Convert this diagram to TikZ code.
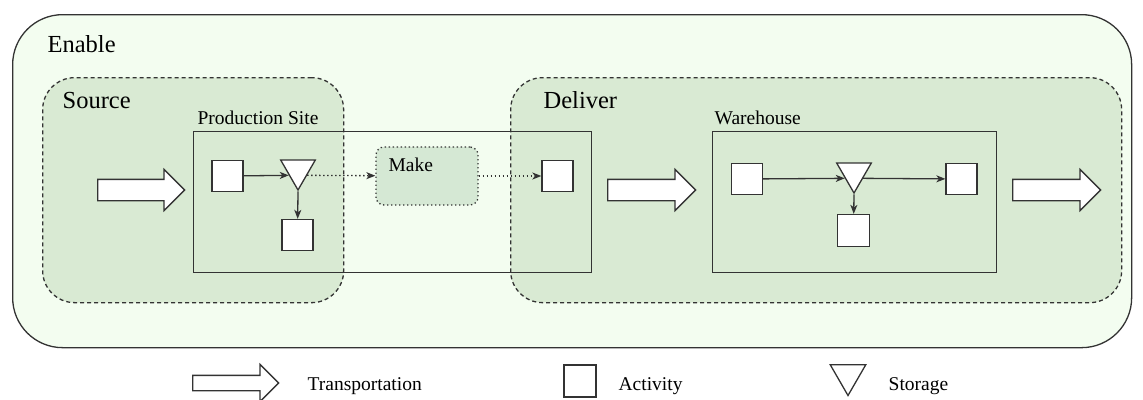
\documentclass[tikz,border=0pt]{standalone}
\usepackage{fontspec}
\setmainfont{Liberation Serif}
\usetikzlibrary{shapes.geometric,shapes.arrows,arrows.meta}

\definecolor{enablebg}{HTML}{F3FDF0}
\definecolor{groupbg}{HTML}{D9EAD3}
\definecolor{makebg}{HTML}{D5E8D4}
\definecolor{ink}{HTML}{333333}

\begin{document}
\begin{tikzpicture}[
  x=1pt, y=-1pt,
  line width=1.3pt,
  enablebox/.style = {draw=ink, fill=enablebg, rectangle, rounded corners=50pt, inner sep=0pt},
  groupbox/.style  = {draw=ink, fill=groupbg, rectangle, rounded corners=32pt, inner sep=0pt,
                      dash pattern=on 4pt off 3pt},
  sitebox/.style   = {draw=ink, rectangle, inner sep=0pt},
  makebox/.style   = {draw=ink, fill=makebg, rectangle, rounded corners=8pt, inner sep=0pt,
                      dash pattern=on 1.3pt off 2.7pt},
  activity/.style  = {draw=ink, fill=white, rectangle, minimum size=31pt, inner sep=0pt},
  storage/.style   = {draw=ink, fill=white, regular polygon, regular polygon sides=3,
                      shape border rotate=180, minimum size=40pt, inner sep=0pt},
  transport/.style = {draw=ink, fill=white, single arrow, single arrow head extend=10pt,
                      minimum width=40pt, minimum height=88pt, inner xsep=0pt, inner ysep=10pt,
                      anchor=tail},
  big/.style       = {font=\fontsize{24.5}{28}\selectfont, inner sep=0pt, anchor=base west},
  lbl/.style       = {font=\fontsize{19.5}{23}\selectfont, inner sep=0pt, anchor=base west},
  flow/.style      = {draw=ink, -{Stealth[length=9pt,width=7pt,inset=2.5pt]}},
  info/.style      = {flow, dash pattern=on 1.3pt off 2.7pt},
]
\useasboundingbox (0,0) rectangle (1143,399);

% --- containers ---------------------------------------------------------
\node[enablebox, minimum width=1119pt, minimum height=333pt, anchor=north west] (enable) at (12,14) {};
\node[groupbox, minimum width=301pt, minimum height=225pt, anchor=north west] (source) at (42,77) {};
\node[groupbox, minimum width=611pt, minimum height=225pt, anchor=north west] (deliver) at (510,77) {};
\node[sitebox, minimum width=398pt, minimum height=141pt, anchor=north west] (site) at (193,131) {};
\node[sitebox, minimum width=284pt, minimum height=141pt, anchor=north west] (house) at (712,131) {};
\node[makebox, minimum width=102pt, minimum height=58pt] (make) at (427,176) {};

\node[big] (tenable) at (47,52) {Enable};
\node[big] (tsource) at (62,108) {Source};
\node[big] (tdeliver) at (543,108) {Deliver};
\node[lbl] (tsite) at (197,124) {Production Site};
\node[lbl] (thouse) at (714,124) {Warehouse};
\node[lbl] (tmake) at (388,171) {Make};

% --- transportation -----------------------------------------------------
\node[transport, minimum height=87pt] (tr1) at (97,190) {};
\node[transport] (tr2) at (607,190) {};
\node[transport] (tr3) at (1012,190) {};

% --- production site ----------------------------------------------------
\node[activity] (ps1) at (227.5,176) {};
\node[storage] (pst) at (298,170) {};
\node[activity] (ps2) at (297.5,235) {};
\node[activity] (ps3) at (557.5,176) {};

\draw[flow] (ps1) -- (pst.side 3);
\draw[flow] (pst.corner 1) -- (ps2);
\draw[info] (pst.side 1) -- (make);
\draw[info] (make) -- (ps3);

% --- warehouse ----------------------------------------------------------
\node[activity] (wh1) at (747,179) {};
\node[storage] (wht) at (854,173) {};
\node[activity, minimum size=32pt] (wh2) at (853.5,230.5) {};
\node[activity] (wh3) at (961.5,179) {};

\draw[flow] (wh1) -- (wht.side 3);
\draw[flow] (wht.side 1) -- (wh3);
\draw[flow] (wht.corner 1) -- (wh2);

% --- legend -------------------------------------------------------------
\node[transport, minimum width=36pt, inner ysep=7pt, single arrow head extend=11pt,
      minimum height=86pt] (legtr) at (192,383) {};
\node[lbl] (legtrt) at (307,390) {Transportation};
\node[activity, minimum size=32pt] (legact) at (580,381) {};
\node[lbl] (legactt) at (618,390) {Activity};
\node[storage, minimum size=41pt] (legsto) at (848,375) {};
\node[lbl] (legstot) at (888,390) {Storage};

\end{tikzpicture}
\end{document}
